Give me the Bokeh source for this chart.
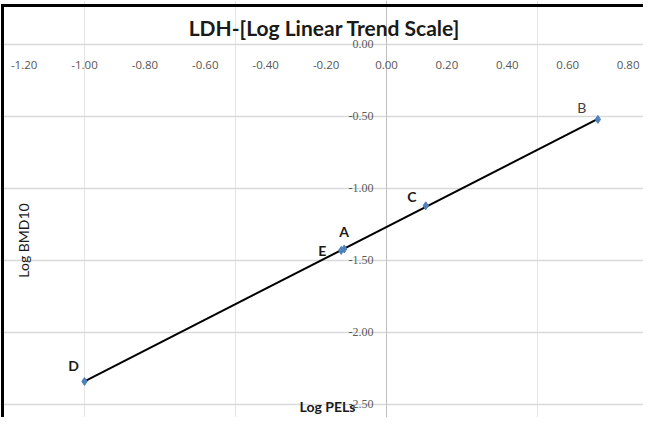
import numpy as np
from bokeh.plotting import figure
from bokeh.models import (ColumnDataSource, Range1d, Grid, FixedTicker, Label,
                          BoxAnnotation)
from bokeh.core.properties import value
from bokeh.embed import file_html
from bokeh.resources import INLINE

# ---- data ----
names = ["A", "B", "C", "D", "E"]
log_pels = [-0.14, 0.70, 0.13, -1.00, -0.15]
log_bmd10 = [-1.42, -0.52, -1.12, -2.34, -1.43]
x_ticks = [-1.2, -1.0, -0.8, -0.6, -0.4, -0.2, 0.0, 0.2, 0.4, 0.6, 0.8]
x_tick_labels = ["-1.20", "-1.00", "-0.80", "-0.60", "-0.40", "-0.20",
                 "0.00", "0.20", "0.40", "0.60", "0.80"]
y_ticks = [0.0, -0.5, -1.0, -1.5, -2.0, -2.5]
y_tick_labels = ["0.00", "-0.50", "-1.00", "-1.50", "-2.00", "-2.50"]
title_text = "LDH-[Log Linear Trend Scale]"
x_title = "Log PELs"
y_title = "Log BMD10"

# ---- styles (label offsets in screen px) ----
lab_dx = [0, -16, -14, -11, -19]
lab_dy = [-17, -12, -9, -16, 0]
lab_style = ["bold", "normal", "bold", "bold", "bold"]
lab_color = ["#1a1a1a", "#404040", "#1a1a1a", "#1a1a1a", "#1a1a1a"]

W, H = 643, 417
PX_X, PX_Y = 302.0, 144.0      # pixels per unit
X0, Y0 = 386.0, 44.0           # canvas position of data origin


def cx(px):
    return (px - X0) / PX_X


def cy(py):
    return (Y0 - py) / PX_Y


p = figure(width=W, height=H, output_backend="svg", toolbar_location=None,
           x_axis_location=None, y_axis_location=None, min_border=0,
           x_range=Range1d(cx(0), cx(W)), y_range=Range1d(cy(H), cy(0)))
p.outline_line_color = None
p.background_fill_color = "white"
p.border_fill_color = "white"

# border (left and top strips)
p.add_layout(BoxAnnotation(left=cx(0.5), right=cx(3.5), top=cy(3.5),
                           bottom=None, fill_color="black", fill_alpha=1,
                           line_alpha=0))
p.add_layout(BoxAnnotation(left=cx(0.5), right=None, top=cy(3.5),
                           bottom=cy(6.5), fill_color="black", fill_alpha=1,
                           line_alpha=0))

# grids
p.add_layout(Grid(dimension=1, ticker=FixedTicker(ticks=y_ticks),
                  bounds=(x_ticks[0], x_ticks[-1]),
                  grid_line_color="#d9d9d9", grid_line_width=1.6))
p.add_layout(Grid(dimension=0, ticker=FixedTicker(ticks=[0.0]),
                  bounds=(y_ticks[-1], y_ticks[0]),
                  grid_line_color="#bfbfbf", grid_line_width=1))

# tick labels
xs = ColumnDataSource(dict(x=x_ticks, y=[0.0] * len(x_ticks), t=x_tick_labels))
p.text(x="x", y="y", text="t", source=xs, text_align="center",
       text_baseline="middle", y_offset=20, text_font=value("Open Sans"),
       text_font_size="11.5px", text_color="#555555")
ys = ColumnDataSource(dict(x=[0.0] * len(y_ticks), y=y_ticks, t=y_tick_labels))
p.text(x="x", y="y", text="t", source=ys, text_align="right",
       text_baseline="middle", x_offset=-13, y_offset=-1,
       text_font=value("Liberation Serif"), text_font_size="12px",
       text_color="#595959")

# trend line (least squares)
slope, intercept = np.polyfit(log_pels, log_bmd10, 1)
lx = np.array([min(log_pels), max(log_pels)])
p.line(lx, slope * lx + intercept, line_color="black", line_width=2)

# points
src = ColumnDataSource(dict(x=log_pels, y=log_bmd10, n=names, dx=lab_dx,
                            dy=lab_dy, fs=lab_style, c=lab_color))
p.scatter(x="x", y="y", source=src, marker="diamond", size=8,
          fill_color="#4f81bd", line_color="#4f81bd")
p.text(x="x", y="y", text="n", source=src, x_offset="dx", y_offset="dy",
       text_align="center", text_baseline="middle", text_font=value("Lato"),
       text_font_size="14px", text_font_style="fs", text_color="c")

# titles
p.add_layout(Label(x=cx(332 - 8), y=cy(35 - 8), text=title_text,
                   text_align="center", text_baseline="middle",
                   text_font="Lato", text_font_size="21px",
                   text_font_style="bold", text_color="#1a1a1a"))
p.add_layout(Label(x=cx(335 - 8), y=cy(414 - 8), text=x_title,
                   text_align="center", text_baseline="middle",
                   text_font="Lato", text_font_size="14px",
                   text_font_style="bold", text_color="#1a1a1a"))
p.add_layout(Label(x=cx(31 - 8), y=cy(248 - 8), text=y_title,
                   text_align="center", text_baseline="middle", angle=np.pi / 2,
                   text_font="Lato", text_font_size="14px",
                   text_color="#1a1a1a"))

open("out.html", "w").write(file_html(p, INLINE))
